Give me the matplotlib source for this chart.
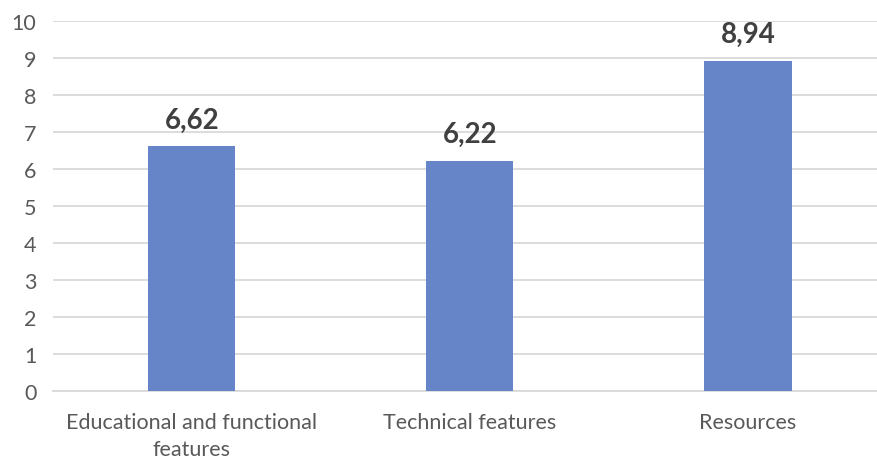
import matplotlib.pyplot as plt

categories = ['Educational and functional\nfeatures', 'Technical features', 'Resources']
values = [6.62, 6.22, 8.94]
labels = ['6,62', '6,22', '8,94']

plt.rcParams['font.family'] = ['Lato', 'DejaVu Sans']

fig = plt.figure(figsize=(8.77, 4.6), dpi=100)
ax = fig.add_axes([0.0604, 0.1478, 0.9396, 0.8033])

x = range(len(categories))
bars = ax.bar(x, values, width=0.313, color='#6684C8', zorder=3)

for b, lab in zip(bars, labels):
    ax.annotate(lab, (b.get_x() + b.get_width() / 2, b.get_height()),
                xytext=(0, 10), textcoords='offset points',
                ha='center', va='bottom', fontsize=20, fontweight='bold',
                color='#404040')

ax.set_ylim(0, 10)
ax.set_xlim(-0.5, 2.464)
ax.set_yticks(range(0, 11))
ax.set_xticks(list(x))
ax.set_xticklabels(categories, linespacing=1.45)
ax.yaxis.grid(True, color='#D9D9D9', linewidth=1.3, zorder=0)
for s in ['top', 'right', 'left']:
    ax.spines[s].set_visible(False)
ax.spines['bottom'].set_color('#D9D9D9')
ax.spines['bottom'].set_linewidth(1.3)
ax.tick_params(axis='both', length=0, labelsize=15.5, colors='#595959')
ax.tick_params(axis='x', pad=15)
ax.tick_params(axis='y', pad=12)

fig.savefig('out.png', dpi=100)
